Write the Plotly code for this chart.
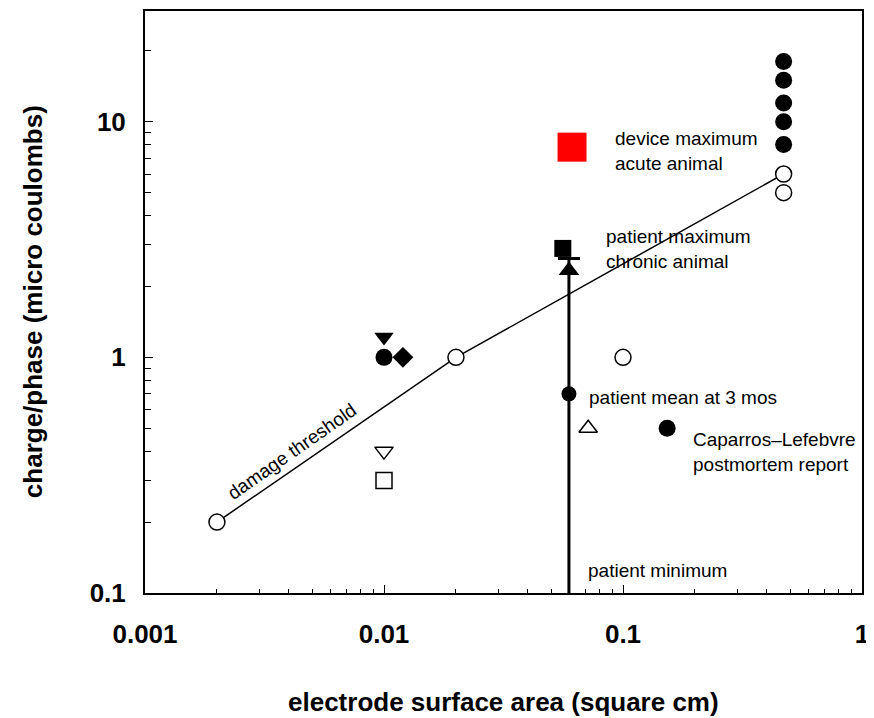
import math
import plotly.graph_objects as go

# ---- data (electrode surface area in cm^2, charge/phase in micro coulombs) ----
thr_x = [0.002, 0.02, 0.47]
thr_y = [0.2, 1.0, 6.0]

open_circ_x = [0.47, 0.1]
open_circ_y = [5.0, 1.0]

fill_circ_x = [0.47, 0.47, 0.47, 0.47, 0.47, 0.01, 0.153]
fill_circ_y = [18.0, 15.0, 12.0, 10.0, 8.0, 1.0, 0.5]

tri_down_x = [0.01]
tri_down_y = [1.22]
diamond_x = [0.012]
diamond_y = [1.0]
open_tri_down_x = [0.01]
open_tri_down_y = [0.40]
open_square_x = [0.01]
open_square_y = [0.30]
open_tri_up_x = [0.0715]
open_tri_up_y = [0.5]

black_square_x = [0.056]
black_square_y = [2.9]
tri_up_x = [0.0594]
tri_up_y = [2.34]

red_square_x = [0.0612]
red_square_y = [7.8]

# patient range: mean with minimum / maximum
pat_x = [0.0594]
pat_mean = [0.70]
pat_min = [0.097]
pat_max = [2.63]

x_ticks = [0.001, 0.01, 0.1, 1]
x_ticktext = ["0.001", "0.01", "0.1", "1"]
y_ticks = [0.1, 1, 10]
y_ticktext = ["0.1", "1", "10"]

FONT = "Liberation Sans, Arial, Helvetica, sans-serif"

fig = go.Figure()

# damage threshold line
fig.add_trace(go.Scatter(x=thr_x, y=thr_y, mode="lines+markers",
                         line=dict(color="black", width=1.5),
                         marker=dict(symbol="circle", size=16, color="white",
                                     line=dict(color="black", width=1.5))))
fig.add_trace(go.Scatter(x=open_circ_x, y=open_circ_y, mode="markers",
                         marker=dict(symbol="circle", size=16, color="white",
                                     line=dict(color="black", width=1.5))))
# patient range (error bar) with mean
fig.add_trace(go.Scatter(x=pat_x, y=pat_mean, mode="markers", cliponaxis=False,
                         marker=dict(symbol="circle", size=15, color="black"),
                         error_y=dict(type="data", symmetric=False,
                                      array=[pat_max[0] - pat_mean[0]],
                                      arrayminus=[pat_mean[0] - pat_min[0]],
                                      color="black", thickness=3, width=11)))
fig.add_trace(go.Scatter(x=fill_circ_x, y=fill_circ_y, mode="markers",
                         marker=dict(symbol="circle", size=17, color="black")))
fig.add_trace(go.Scatter(x=tri_down_x, y=tri_down_y, mode="markers",
                         marker=dict(symbol="triangle-down", size=17, color="black")))
fig.add_trace(go.Scatter(x=diamond_x, y=diamond_y, mode="markers",
                         marker=dict(symbol="diamond", size=16, color="black")))
fig.add_trace(go.Scatter(x=open_tri_down_x, y=open_tri_down_y, mode="markers",
                         marker=dict(symbol="triangle-down", size=16, color="white",
                                     line=dict(color="black", width=1.5))))
fig.add_trace(go.Scatter(x=open_square_x, y=open_square_y, mode="markers",
                         marker=dict(symbol="square", size=16, color="white",
                                     line=dict(color="black", width=1.5))))
fig.add_trace(go.Scatter(x=open_tri_up_x, y=open_tri_up_y, mode="markers",
                         marker=dict(symbol="triangle-up", size=16, color="white",
                                     line=dict(color="black", width=1.5))))
fig.add_trace(go.Scatter(x=black_square_x, y=black_square_y, mode="markers",
                         marker=dict(symbol="square", size=17, color="black")))
fig.add_trace(go.Scatter(x=tri_up_x, y=tri_up_y, mode="markers",
                         marker=dict(symbol="triangle-up", size=18, color="black")))
fig.add_trace(go.Scatter(x=red_square_x, y=red_square_y, mode="markers",
                         marker=dict(symbol="square", size=29, color="#ff0000")))

# text labels (paper coords of left edge / vertical center)
labels = [
    ("device maximum<br>acute animal", 0.653, 0.759),
    ("patient maximum<br>chronic animal", 0.640, 0.591),
    ("patient mean at 3 mos", 0.616, 0.336),
    ("Caparros\u2013Lefebvre<br>postmortem report", 0.762, 0.242),
    ("patient minimum", 0.615, 0.039),
]
for txt, xp, yp in labels:
    fig.add_annotation(text=txt, xref="paper", yref="paper", x=xp, y=yp,
                       xanchor="left", yanchor="middle", align="left",
                       showarrow=False, font=dict(family=FONT, size=19, color="black"))
fig.add_annotation(text="damage threshold", xref="paper", yref="paper",
                   x=0.205, y=0.243, xanchor="center", yanchor="middle",
                   textangle=-35, showarrow=False,
                   font=dict(family=FONT, size=19, color="black"))

# axis titles
fig.add_annotation(text="<b>electrode surface area (square cm)</b>", xref="paper", yref="paper",
                   x=0.5, y=-0.188, xanchor="center", yanchor="middle", showarrow=False,
                   font=dict(family=FONT, size=26, color="black"))
fig.add_annotation(text="<b>charge/phase (micro coulombs)</b>", xref="paper", yref="paper",
                   x=-0.156, y=0.5, xanchor="center", yanchor="middle", textangle=-90,
                   showarrow=False, font=dict(family=FONT, size=26, color="black"))

# page body has an 8px margin: figure is sized/offset so the plot box lands at
# x 145..862, y 9..593 in the 874x718 window
fig.update_layout(
    width=866, height=710,
    margin=dict(l=137, r=12, t=1, b=125),
    paper_bgcolor="white", plot_bgcolor="white",
    showlegend=False,
    font=dict(family=FONT, color="black"),
    xaxis=dict(type="log", range=[-3, 0], showgrid=False, zeroline=False,
               showline=True, linecolor="black", linewidth=2, mirror=True,
               ticks="inside", ticklen=8, tickwidth=1.2, tickcolor="black",
               tickvals=x_ticks, ticktext=x_ticktext, ticklabelstandoff=17,
               tickfont=dict(family=FONT, size=26, color="black", weight="bold"),
               minor=dict(dtick="D1", ticks="inside", ticklen=4, tickwidth=1,
                          tickcolor="black", showgrid=False)),
    yaxis=dict(type="log", range=[-1, 1.47], showgrid=False, zeroline=False,
               showline=True, linecolor="black", linewidth=2, mirror=True,
               ticks="inside", ticklen=8, tickwidth=1.2, tickcolor="black",
               tickvals=y_ticks, ticktext=y_ticktext, ticklabelstandoff=12,
               tickfont=dict(family=FONT, size=26, color="black", weight="bold"),
               minor=dict(dtick="D1", ticks="inside", ticklen=6, tickwidth=1,
                          tickcolor="black", showgrid=False)),
)

fig.write_html("out.html")
